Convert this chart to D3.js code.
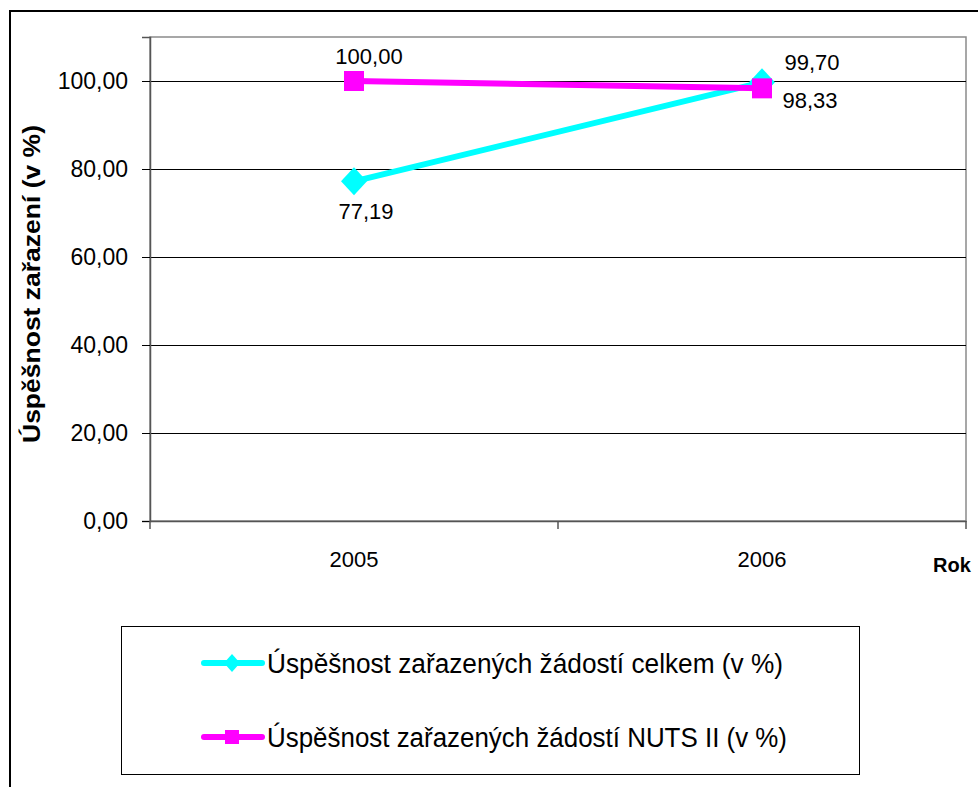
<!DOCTYPE html>
<html>
<head>
<meta charset="utf-8">
<script src="https://cdn.jsdelivr.net/npm/d3@7"></script>
<style>
  body { margin: 0; background: #fff; }
  svg { display: block; font-family: "Liberation Sans", Arial, sans-serif; }
</style>
</head>
<body>
<div id="chart"></div>
<script>
// data
const years = ["2005", "2006"];
const celkem = [77.19, 99.70];
const nuts = [100.00, 98.33];
const yTicks = [0, 20, 40, 60, 80, 100];
const seriesNames = [
    "Úspěšnost zařazených žádostí celkem (v %)",
    "Úspěšnost zařazených žádostí NUTS II (v %)"
];

const width = 978, height = 787;
const plot = { left: 150, top: 37, right: 966, bottom: 521 };

const fmt = v => v.toFixed(2).replace(".", ",");

const svg = d3.select("#chart").append("svg")
    .attr("width", width)
    .attr("height", height);

svg.append("rect").attr("width", width).attr("height", height).attr("fill", "#fff");

// outer chart border (runs off the right and bottom edge)
svg.append("rect")
    .attr("x", 10).attr("y", 11)
    .attr("width", width + 20).attr("height", height + 20)
    .attr("fill", "none").attr("stroke", "#000").attr("stroke-width", 2);

const x = d3.scaleBand().domain(years).range([plot.left, plot.right]);
const y = d3.scaleLinear().domain([0, 110]).range([plot.bottom, plot.top]);

// plot area frame
svg.append("rect")
    .attr("x", plot.left).attr("y", plot.top)
    .attr("width", plot.right - plot.left).attr("height", plot.bottom - plot.top)
    .attr("fill", "#fff").attr("stroke", "#8a8a8a").attr("stroke-width", 1.5);

// gridlines
svg.append("g").selectAll("line").data(yTicks.filter(d => d > 0)).join("line")
    .attr("x1", plot.left).attr("x2", plot.right)
    .attr("y1", d => Math.round(y(d)) + 0.5).attr("y2", d => Math.round(y(d)) + 0.5)
    .attr("stroke", "#000").attr("stroke-width", 1);

// y axis
const yAxis = svg.append("g")
    .attr("transform", `translate(${plot.left},0)`)
    .call(d3.axisLeft(y).tickValues(yTicks).tickSize(8).tickPadding(14).tickFormat(fmt));
yAxis.select(".domain").attr("stroke", "#555").attr("stroke-width", 1.5);
yAxis.selectAll(".tick line").attr("stroke", "#000");
yAxis.selectAll("text").attr("font-size", 23).attr("fill", "#000")
    .attr("font-family", "Liberation Sans, Arial, sans-serif");

// x axis with ticks between categories
const xAxis = svg.append("g")
    .attr("transform", `translate(0,${plot.bottom})`)
    .call(d3.axisBottom(x).tickSize(0).tickPadding(30));
xAxis.select(".domain").attr("stroke", "#555").attr("stroke-width", 1.5);
xAxis.selectAll("text").attr("font-size", 22).attr("fill", "#000")
    .attr("font-family", "Liberation Sans, Arial, sans-serif");
const bounds = [plot.left, ...years.map(d => x(d) + x.bandwidth())];
xAxis.selectAll(".sep").data(bounds).join("line")
    .attr("class", "sep")
    .attr("x1", d => d).attr("x2", d => d)
    .attr("y1", 0).attr("y2", 8)
    .attr("stroke", "#555").attr("stroke-width", 1.5);

// axis titles
svg.append("text")
    .attr("transform", `translate(40,${(plot.top + plot.bottom) / 2 + 5}) rotate(-90)`)
    .attr("text-anchor", "middle")
    .attr("font-size", 23).attr("font-weight", "bold")
    .attr("textLength", 318).attr("lengthAdjust", "spacingAndGlyphs")
    .text("Úspěšnost zařazení (v %)");

svg.append("text")
    .attr("x", 933).attr("y", 572)
    .attr("font-size", 20).attr("font-weight", "bold")
    .text("Rok");

const cx = d => x(d) + x.bandwidth() / 2;
const line = d3.line().x((d, i) => cx(years[i])).y(d => y(d));

// rhombus marker like the spreadsheet one
const rhombus = (w, h) => `M0,${-h}L${w},0L0,${h}L${-w},0Z`;
const box = (w, h) => `M${-w},${-h}H${w}V${h}H${-w}Z`;

// series 1 - cyan diamonds
svg.append("path").datum(celkem)
    .attr("d", line).attr("fill", "none")
    .attr("stroke", "#00FFFF").attr("stroke-width", 6);
svg.append("g").selectAll("path").data(celkem).join("path")
    .attr("transform", (d, i) => `translate(${cx(years[i])},${y(d)})`)
    .attr("d", rhombus(13, 14)).attr("fill", "#00FFFF");

// series 2 - magenta squares
svg.append("path").datum(nuts)
    .attr("d", line).attr("fill", "none")
    .attr("stroke", "#FF00FF").attr("stroke-width", 6);
svg.append("g").selectAll("path").data(nuts).join("path")
    .attr("transform", (d, i) => `translate(${cx(years[i])},${y(d)})`)
    .attr("d", box(10, 10)).attr("fill", "#FF00FF");

// data labels (offsets from the point)
const labelOffsets = [
    [[12, 38], [50, -12]],     // celkem
    [[15, -17], [48, 20]]      // NUTS II
];
[celkem, nuts].forEach((series, s) => {
    svg.append("g").selectAll("text").data(series).join("text")
        .attr("x", (d, i) => cx(years[i]) + labelOffsets[s][i][0])
        .attr("y", (d, i) => y(d) + labelOffsets[s][i][1])
        .attr("text-anchor", "middle")
        .attr("font-size", 22)
        .text(fmt);
});

// legend
const legend = svg.append("g");
legend.append("rect")
    .attr("x", 121.5).attr("y", 626.5).attr("width", 738).attr("height", 148)
    .attr("fill", "#fff").attr("stroke", "#000").attr("stroke-width", 1);

const legendColors = ["#00FFFF", "#FF00FF"];
const legendMarks = [rhombus(8, 9), box(7, 7)];
seriesNames.forEach((name, i) => {
    const ly = 663 + i * 74;
    legend.append("line")
        .attr("x1", 204).attr("x2", 262).attr("y1", ly).attr("y2", ly)
        .attr("stroke", legendColors[i]).attr("stroke-width", 6)
        .attr("stroke-linecap", "round");
    legend.append("path")
        .attr("transform", `translate(232,${ly})`)
        .attr("d", legendMarks[i]).attr("fill", legendColors[i]);
    legend.append("text")
        .attr("x", 267).attr("y", ly + 10)
        .attr("font-size", 27)
        .attr("textLength", i === 0 ? 516 : 520)
        .attr("lengthAdjust", "spacingAndGlyphs")
        .text(name);
});
</script>
</body>
</html>
